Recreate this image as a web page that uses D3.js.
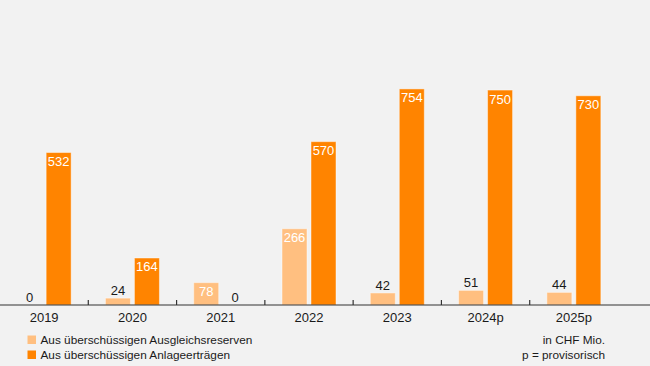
<!DOCTYPE html>
<html>
<head>
<meta charset="utf-8">
<script src="https://cdn.jsdelivr.net/npm/d3@7"></script>
<style>
  html, body { margin: 0; padding: 0; background: #f2f2f2; }
  svg { display: block; font-family: "Liberation Sans", Arial, sans-serif; }
</style>
</head>
<body>
<div id="chart"></div>
<script>
// values in CHF Mio.
const years = ["2019", "2020", "2021", "2022", "2023", "2024p", "2025p"];
const reserves = [0, 24, 78, 266, 42, 51, 44];      // Aus überschüssigen Ausgleichsreserven
const investment = [532, 164, 0, 570, 754, 750, 730]; // Aus überschüssigen Anlageerträgen
const seriesNames = ["Aus überschüssigen Ausgleichsreserven", "Aus überschüssigen Anlageerträgen"];
const notes = ["in CHF Mio.", "p = provisorisch"];

const W = 650, H = 366;
const LIGHT = "#ffbf80", DARK = "#ff8400";
const baseY = 305;

const svg = d3.select("#chart").append("svg")
  .attr("width", W).attr("height", H);

svg.append("rect").attr("width", W).attr("height", H).attr("fill", "#f2f2f2");

const x = d3.scaleBand().domain(years).range([0, 618]);
const y = d3.scaleLinear().domain([0, 1000]).range([baseY, 18.4]);

const barW = 25, gap = 4;
const rows = years.map((yr, i) => ({ yr, r: reserves[i], a: investment[i] }));

// bars
const groups = svg.selectAll("g.year").data(rows).enter().append("g")
  .attr("class", "year")
  .attr("transform", d => `translate(${x(d.yr) + x.bandwidth() / 2},0)`);

function drawSeries(key, offset, color) {
  groups.filter(d => d[key] > 0).append("rect")
    .attr("x", offset)
    .attr("y", d => y(d[key]))
    .attr("width", barW)
    .attr("height", d => baseY - y(d[key]))
    .attr("fill", color)
    .attr("stroke", "#ffffff")
    .attr("stroke-opacity", 0.45)
    .attr("stroke-width", 1);

  groups.append("text")
    .attr("x", offset + barW / 2)
    .attr("text-anchor", "middle")
    .attr("font-size", 13)
    .each(function (d) {
      const h = baseY - y(d[key]);
      const inside = h > 20;
      d3.select(this)
        .attr("y", inside ? y(d[key]) + 13.5 : y(d[key]) - 3)
        .attr("fill", inside ? "#ffffff" : "#1a1a1a")
        .text(d[key]);
    });
}

drawSeries("r", -barW - gap / 2, LIGHT);
drawSeries("a", gap / 2, DARK);

// axis line + ticks between categories
svg.append("line")
  .attr("x1", 0).attr("x2", W)
  .attr("y1", baseY).attr("y2", baseY)
  .attr("stroke", "#333").attr("stroke-width", 1.2);

svg.selectAll("line.tick").data(years.slice(1)).enter().append("line")
  .attr("class", "tick")
  .attr("x1", d => x(d)).attr("x2", d => x(d))
  .attr("y1", baseY).attr("y2", baseY - 5)
  .attr("stroke", "#333").attr("stroke-width", 1.2);

svg.selectAll("text.year-label").data(years).enter().append("text")
  .attr("class", "year-label")
  .attr("x", d => x(d) + x.bandwidth() / 2)
  .attr("y", 321.5)
  .attr("text-anchor", "middle")
  .attr("font-size", 13)
  .attr("fill", "#1a1a1a")
  .text(d => d);

// legend
const legend = svg.selectAll("g.legend").data(seriesNames).enter().append("g")
  .attr("class", "legend")
  .attr("transform", (d, i) => `translate(27.5,${335.5 + i * 15})`);
legend.append("rect").attr("width", 8.5).attr("height", 8.5)
  .attr("fill", (d, i) => i === 0 ? LIGHT : DARK);
legend.append("text").attr("x", 13).attr("y", 8)
  .attr("font-size", 11.8).attr("fill", "#1a1a1a")
  .text(d => d);

// notes
svg.selectAll("text.note").data(notes).enter().append("text")
  .attr("class", "note")
  .attr("x", 605)
  .attr("y", (d, i) => 343.5 + i * 15)
  .attr("text-anchor", "end")
  .attr("font-size", 11.8)
  .attr("fill", "#1a1a1a")
  .text(d => d);
</script>
</body>
</html>
